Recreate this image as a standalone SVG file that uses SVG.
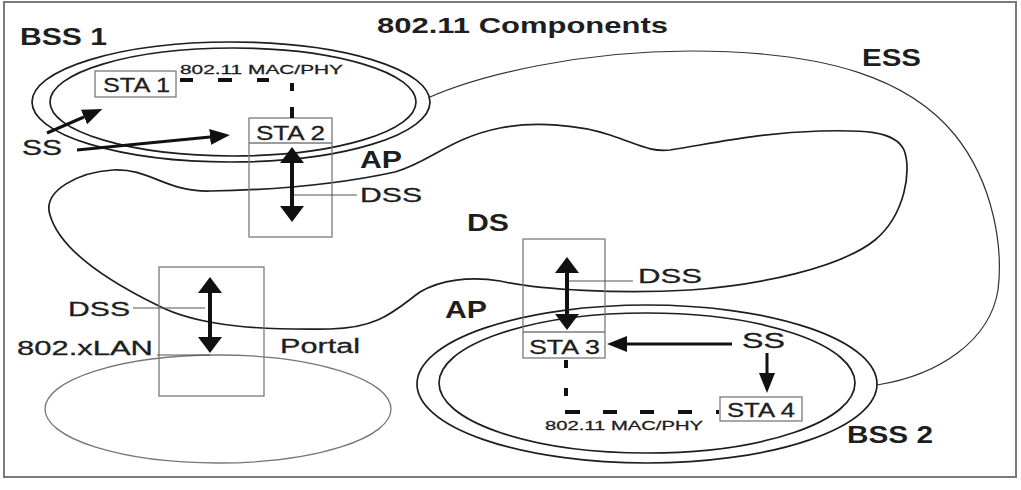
<svg xmlns="http://www.w3.org/2000/svg" width="1021" height="490" viewBox="0 0 1021 490">
<style>
text{font-family:"Liberation Sans",Arial,sans-serif;fill:#1e1e1e;stroke:#1e1e1e;stroke-width:0.3}
.b{font-weight:bold;stroke-width:0}
.box{fill:none;stroke:#7a7a7a;stroke-width:1.3}
.curve{fill:none;stroke:#1e1e1e;stroke-width:1.7}
.thin{fill:none;stroke:#333;stroke-width:1.2}
.lead{stroke:#555;stroke-width:1.2}
.dash{stroke:#111;stroke-width:4}
.dbl{stroke:#111;stroke-width:4;fill:none}
.ssa{stroke:#111;stroke-width:3;fill:none}
</style>
<defs>
<marker id="hd" viewBox="0 0 16 24" refX="0" refY="12" markerWidth="16" markerHeight="24" markerUnits="userSpaceOnUse" orient="auto-start-reverse"><path d="M0,0 L16,12 L0,24 Z" fill="#111"/></marker>
<marker id="hs" viewBox="0 0 20 16" refX="0" refY="8" markerWidth="20" markerHeight="16" markerUnits="userSpaceOnUse" orient="auto"><path d="M0,0 L20,8 L0,16 Z" fill="#111"/></marker>
</defs>
<rect x="0" y="0" width="1021" height="490" fill="#fff"/>
<rect x="4" y="2" width="1012" height="475" fill="none" stroke="#7a7a7a" stroke-width="2"/>
<text class="b" x="377" y="33" font-size="22" textLength="291" lengthAdjust="spacingAndGlyphs">802.11 Components</text>

<g id="ess">
<path class="thin" d="M430,97 C480,75 580,51 690,51 C830,51 910,80 955,135 C995,185 1003,250 998,290 C990,340 940,375 877,385"/>
<text class="b" x="862" y="66" font-size="24" textLength="59" lengthAdjust="spacingAndGlyphs">ESS</text>
</g>

<g id="ds">
<path class="curve" d="M113,170 C150,168 165,192 210,191 C270,190 340,184 395,172 C430,162 450,138 500,128 C535,121 580,125 610,135 C640,145 650,152 670,150 C720,142 760,133 820,131 C860,130 895,130 904,150 C912,170 905,215 875,240 C840,268 760,285 690,290 C620,294 540,290 500,281 C470,276 440,280 420,292 C395,310 380,328 330,329 C270,330 200,328 157,305 C110,282 60,250 50,215 C42,190 80,172 113,170 Z"/>
<text class="b" x="467" y="231" font-size="23" textLength="42" lengthAdjust="spacingAndGlyphs">DS</text>
</g>

<g id="bss1">
<ellipse class="curve" cx="231" cy="102" rx="199" ry="60"/>
<ellipse class="curve" cx="233" cy="102" rx="183" ry="54"/>
<text class="b" x="20" y="45" font-size="23" textLength="87" lengthAdjust="spacingAndGlyphs">BSS 1</text>
<text x="22" y="155" font-size="22" textLength="40" lengthAdjust="spacingAndGlyphs">SS</text>
</g>

<g id="bss2">
<ellipse class="curve" cx="647" cy="384" rx="230" ry="79"/>
<ellipse class="curve" cx="647" cy="383" rx="208" ry="70"/>
<text class="b" x="847" y="443" font-size="23" textLength="86" lengthAdjust="spacingAndGlyphs">BSS 2</text>
<text x="742" y="348" font-size="22" textLength="43" lengthAdjust="spacingAndGlyphs">SS</text>
</g>

<g id="lan">
<ellipse cx="218" cy="409" rx="173" ry="54" fill="none" stroke="#777" stroke-width="1.3"/>
<text x="17" y="355" font-size="20" textLength="136" lengthAdjust="spacingAndGlyphs">802.xLAN</text>
</g>

<g id="sta1">
<rect class="box" x="95" y="71" width="81" height="26"/>
<text x="103" y="92" font-size="20" textLength="67" lengthAdjust="spacingAndGlyphs">STA 1</text>
</g>

<g id="ap1">
<rect class="box" x="249" y="118" width="83" height="119"/>
<line class="box" x1="249" y1="143" x2="332" y2="143"/>
<text x="256" y="140" font-size="20" textLength="69" lengthAdjust="spacingAndGlyphs">STA 2</text>
<text class="b" x="360" y="168" font-size="23" textLength="42" lengthAdjust="spacingAndGlyphs">AP</text>
<text x="360" y="202" font-size="20" textLength="62" lengthAdjust="spacingAndGlyphs">DSS</text>
</g>

<g id="portal">
<rect class="box" x="159" y="267" width="105" height="129"/>
<text x="68" y="316" font-size="20" textLength="62" lengthAdjust="spacingAndGlyphs">DSS</text>
<text x="280" y="353" font-size="20" textLength="80" lengthAdjust="spacingAndGlyphs">Portal</text>
</g>

<g id="ap2">
<rect class="box" x="523" y="239" width="82" height="119"/>
<line class="box" x1="523" y1="332" x2="605" y2="332"/>
<text x="529" y="354" font-size="20" textLength="71" lengthAdjust="spacingAndGlyphs">STA 3</text>
<text class="b" x="445" y="318" font-size="23" textLength="42" lengthAdjust="spacingAndGlyphs">AP</text>
<text x="638" y="283" font-size="20" textLength="64" lengthAdjust="spacingAndGlyphs">DSS</text>
</g>

<g id="sta4">
<rect class="box" x="720" y="397" width="82" height="24"/>
<text x="727" y="417" font-size="20" textLength="68" lengthAdjust="spacingAndGlyphs">STA 4</text>
</g>

<g id="connectors">
<line class="lead" x1="293" y1="195" x2="357" y2="195"/>
<line class="lead" x1="133" y1="308" x2="205" y2="308"/>
<line class="lead" x1="157" y1="355" x2="210" y2="355"/>
<line class="lead" x1="567" y1="281" x2="633" y2="281"/>
<line class="dbl" x1="292" y1="163" x2="292" y2="206" marker-start="url(#hd)" marker-end="url(#hd)"/>
<line class="dbl" x1="210" y1="293" x2="210" y2="337" marker-start="url(#hd)" marker-end="url(#hd)"/>
<line class="dbl" x1="567" y1="273" x2="567" y2="314" marker-start="url(#hd)" marker-end="url(#hd)"/>
<line class="ssa" x1="47" y1="133" x2="84" y2="117" marker-end="url(#hs)"/>
<line class="ssa" x1="77" y1="150" x2="210" y2="137" marker-end="url(#hs)"/>
<line class="ssa" x1="732" y1="344" x2="627" y2="344" marker-end="url(#hs)"/>
<line class="ssa" x1="767" y1="353" x2="767" y2="373" marker-end="url(#hs)"/>
<g id="macphy1">
<line class="dash" x1="180" y1="80" x2="193" y2="80"/>
<line class="dash" x1="218" y1="80" x2="232" y2="80"/>
<line class="dash" x1="257" y1="80" x2="269" y2="80"/>
<line class="dash" x1="292" y1="83" x2="292" y2="91"/>
<line class="dash" x1="292" y1="107" x2="292" y2="118"/>
<text x="180" y="74" font-size="13" textLength="163" lengthAdjust="spacingAndGlyphs">802.11 MAC/PHY</text>
</g>
<g id="macphy2">
<line class="dash" x1="566" y1="360" x2="566" y2="368"/>
<line class="dash" x1="566" y1="388" x2="566" y2="396"/>
<line class="dash" x1="565" y1="412" x2="580" y2="412"/>
<line class="dash" x1="603" y1="412" x2="617" y2="412"/>
<line class="dash" x1="640" y1="412" x2="654" y2="412"/>
<line class="dash" x1="678" y1="412" x2="692" y2="412"/>
<line class="dash" x1="716" y1="412" x2="719" y2="412"/>
<text x="545" y="430" font-size="13" textLength="158" lengthAdjust="spacingAndGlyphs">802.11 MAC/PHY</text>
</g>
</g>
</svg>
